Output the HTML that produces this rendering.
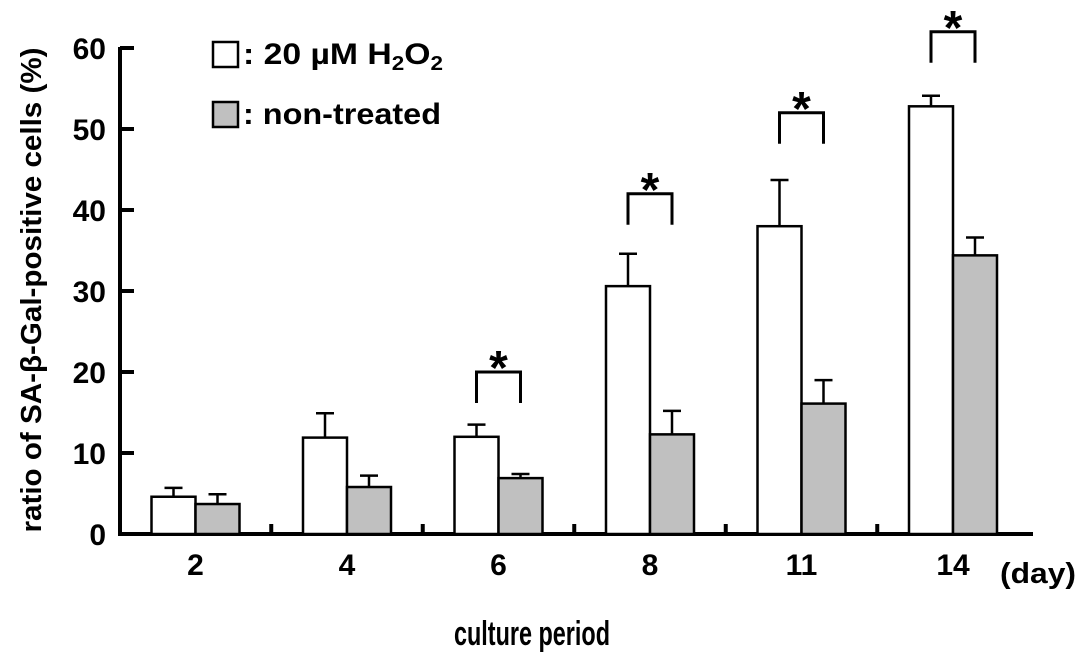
<!DOCTYPE html>
<html><head><meta charset="utf-8"><style>
html,body{margin:0;padding:0;background:#fff;}
svg{display:block;font-family:"Liberation Sans",sans-serif;font-weight:bold;}
</style></head><body>
<svg id="chart" width="1087" height="664" viewBox="0 0 1087 664" xmlns="http://www.w3.org/2000/svg">
<g id="axes"></g><g id="bars"></g><g id="sig"></g>
<g>
<rect x="213" y="42" width="25" height="25" fill="#fff" stroke="#000" stroke-width="2.5"/>
<text x="243" y="64" font-size="30" textLength="200" lengthAdjust="spacingAndGlyphs">: 20 µM H<tspan font-size="20" dy="6">2</tspan><tspan dy="-6">O</tspan><tspan font-size="20" dy="6">2</tspan></text>
<rect x="213" y="102" width="25" height="25" fill="#c0c0c0" stroke="#000" stroke-width="2.5"/>
<text x="243" y="124" font-size="30" textLength="198" lengthAdjust="spacingAndGlyphs">: non-treated</text>
</g>
<text transform="translate(41,290) rotate(-90)" text-anchor="middle" font-size="29" textLength="485" lengthAdjust="spacingAndGlyphs">ratio of SA-β-Gal-positive cells (%)</text>
<text x="454" y="645" font-size="34" textLength="156" lengthAdjust="spacingAndGlyphs">culture period</text>
<text x="1000" y="583" font-size="29" textLength="76" lengthAdjust="spacingAndGlyphs">(day)</text>
</svg>
<script>
const categories = ["2","4","6","8","11","14"];
const h2o2Values = [4.6, 11.9, 12.0, 30.6, 38.0, 52.8];
const h2o2Errors = [1.1, 3.0, 1.5, 4.0, 5.7, 1.3];
const ctrlValues = [3.7, 5.8, 6.9, 12.3, 16.1, 34.4];
const ctrlErrors = [1.2, 1.4, 0.5, 2.9, 2.9, 2.2];
const significant = [false, false, true, true, true, true];
const sigLevel = [null, null, 20, 42, 52, 62];
const yTicks = [0,10,20,30,40,50,60];

const NS="http://www.w3.org/2000/svg";
const y0=534, pxPer=8.1, x0=120, xEnd=1033;
const groupStart=151.5, groupStep=151.5, barW=44;
const y=v=>y0-v*pxPer;
const cx=i=>groupStart+44+i*groupStep;
function mk(tag,attrs,parent){const e=document.createElementNS(NS,tag);for(const k in attrs)e.setAttribute(k,attrs[k]);parent.appendChild(e);return e;}
const axes=document.getElementById('axes'), bars=document.getElementById('bars'), sig=document.getElementById('sig');

const ya=mk('line',{x1:x0,y1:y(60)-1,x2:x0,y2:y0+2,stroke:'#000','stroke-width':4},axes);


const xa=mk('line',{x1:x0-2,y1:y0,x2:xEnd,y2:y0,stroke:'#000','stroke-width':4},axes);


yTicks.forEach(t=>{
  const tk=mk('line',{x1:x0,y1:y(t),x2:x0+14,y2:y(t),stroke:'#000','stroke-width':4},axes);
  
  
  const tl=mk('text',{x:106,y:y(t)+11,'text-anchor':'end','font-size':30},axes);
  
  
  tl.textContent=t;
});
categories.forEach((c,i)=>{
  if(i<categories.length-1){
    const gx=cx(i)+groupStep/2;
    const tk=mk('line',{x1:gx,y1:y0,x2:gx,y2:y0-10,stroke:'#000','stroke-width':4},axes);
    
    
  }
  const tl=mk('text',{x:cx(i),y:575,'text-anchor':'middle','font-size':30},axes);
  
  
  tl.textContent=c;
  [[h2o2Values,h2o2Errors,'#fff',cx(i)-barW,'h2o2'],[ctrlValues,ctrlErrors,'#c0c0c0',cx(i),'ctrl']].forEach(([vals,errs,fill,bx,nm])=>{
    const v=vals[i], e=errs[i], top=y(v), et=y(v+e), mx=bx+barW/2;
    const eb=mk('line',{x1:mx,y1:top,x2:mx,y2:et,stroke:'#000','stroke-width':2.5},bars);
    
    
    const ec=mk('line',{x1:mx-9,y1:et,x2:mx+9,y2:et,stroke:'#000','stroke-width':2.5},bars);
    
    
    const r=mk('rect',{x:bx,y:top,width:barW,height:y0-top,fill:fill,stroke:'#000','stroke-width':2.5},bars);
    
    
  });
  if(significant[i]){
    const l1=cx(i)-barW/2, l2=cx(i)+barW/2, bt=y(sigLevel[i]), bb=bt+31;
    const br=mk('polyline',{points:`${l1},${bb} ${l1},${bt} ${l2},${bt} ${l2},${bb}`,fill:'none',stroke:'#000','stroke-width':3},sig);
    
    
    const st=mk('text',{x:cx(i),y:bt+12,'text-anchor':'middle','font-size':48},sig);
    
    
    st.textContent='*';
  }
});
</script>
</body></html>
